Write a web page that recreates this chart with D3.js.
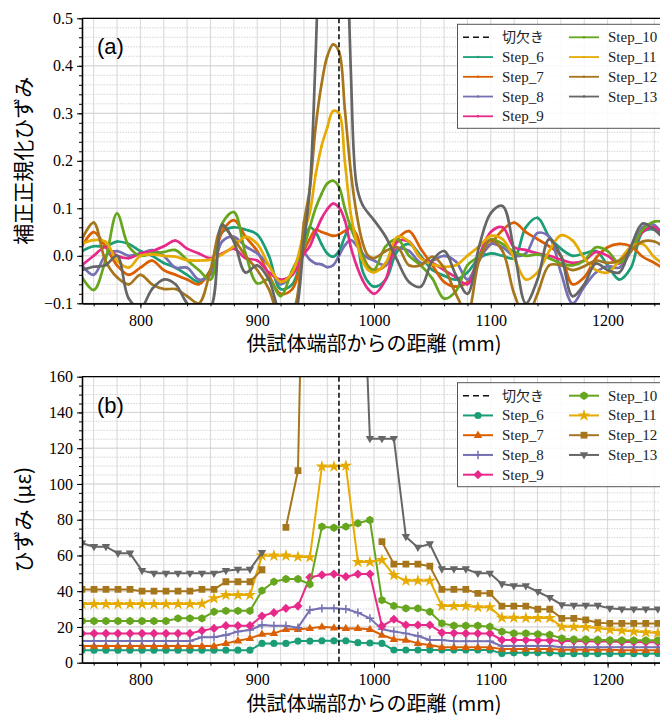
<!DOCTYPE html>
<meta charset="utf-8">
<head>
<script src="https://cdn.jsdelivr.net/npm/d3@7"></script>
<style>
  body { margin: 0; background: #fff; }
</style>
</head>
<body>
<script>
"use strict";

// ---- data ----
var seriesNames = ["Step_6", "Step_7", "Step_8", "Step_9", "Step_10", "Step_11", "Step_12", "Step_13"];
var notchLabel = "切欠き";
var notchX = 970;
var xTicks = [800, 900, 1000, 1100, 1200];
var aTicks = [-0.1, 0.0, 0.1, 0.2, 0.3, 0.4, 0.5];
var bTicks = [0, 20, 40, 60, 80, 100, 120, 140, 160];

// (a) corrected normalised strain, distance in mm
var xA = [750,760,770,780,790,800,810,820,830,840,850,860,870,880,890,900,910,920,930,
  940,945,950,955,960,965,970,975,980,985,990,995,1000,
  1010,1020,1030,1040,1050,1060,1070,1080,1090,1100,1110,1120,1130,1140,1150,1160,1170,1180,1190,1200,1210,1220,1230,1240,1250];
var a6 = [0.01,0.02,0.02,0.03,0.025,0.01,0.0,-0.015,-0.025,-0.04,-0.055,-0.03,0.05,0.06,0.055,0.045,0.0,-0.07,-0.06,
  0.02,0.06,0.05,0.025,0.005,-0.002,0.01,0.04,0.065,0.04,-0.03,-0.055,-0.065,
  -0.05,0.01,0.025,0.0,-0.03,-0.042,-0.05,-0.035,-0.005,0.005,0.0,-0.005,0.06,0.08,0.04,0.015,0.0,0.005,0.01,-0.02,-0.05,-0.025,0.05,0.055,0.03];
var a7 = [0.02,0.05,0.02,-0.02,-0.04,-0.025,-0.01,-0.03,-0.04,-0.05,-0.06,-0.03,0.05,0.075,0.04,0.01,-0.04,-0.08,-0.07,
  0.01,0.035,0.055,0.05,0.046,0.042,0.045,0.052,0.058,0.045,0.005,-0.022,-0.03,
  -0.02,0.035,0.052,0.015,-0.02,-0.055,-0.065,-0.055,-0.005,0.025,0.054,0.07,0.05,0.035,0.02,0.0,-0.06,-0.045,-0.005,0.018,0.025,0.02,-0.002,-0.015,-0.03];
var a8 = [-0.02,-0.04,0.0,0.01,0.0,0.005,0.012,0.0,-0.025,-0.025,-0.05,-0.04,0.03,0.04,0.02,0.005,-0.02,-0.06,-0.04,
  0.005,-0.008,-0.016,-0.018,-0.024,-0.02,0.0,0.022,0.033,0.022,0.005,-0.005,-0.01,
  -0.02,0.015,0.01,-0.015,-0.01,0.0,-0.012,-0.05,-0.01,0.025,0.018,0.0,0.005,0.048,0.04,-0.035,-0.1,-0.065,-0.035,-0.022,-0.025,0.01,0.06,0.065,0.03];
var a9 = [-0.02,0.0,0.018,0.0,-0.005,0.005,0.01,0.02,0.032,0.015,0.005,-0.005,0.005,0.015,-0.005,-0.01,-0.035,-0.05,-0.04,
  0.004,0.02,0.05,0.078,0.098,0.11,0.102,0.075,0.02,-0.02,-0.05,-0.07,-0.08,
  -0.05,0.03,0.03,-0.005,-0.015,-0.03,-0.045,-0.06,0.0,0.05,0.06,0.018,0.012,0.005,0.0,-0.008,-0.015,-0.01,0.008,0.0,-0.016,0.01,0.05,0.06,0.035];
var a10 = [-0.045,-0.072,-0.01,0.089,0.02,0.0,0.005,0.008,0.012,-0.009,-0.03,-0.05,0.068,0.092,0.005,-0.058,-0.05,-0.085,-0.03,
  0.02,0.06,0.1,0.13,0.152,0.158,0.145,0.1,0.06,0.03,0.0,-0.025,-0.03,
  0.02,0.035,0.0,-0.02,-0.048,-0.09,-0.075,-0.02,0.0,0.035,0.025,0.008,0.0,0.003,-0.005,-0.016,-0.02,-0.01,0.018,0.01,-0.015,0.01,0.055,0.072,0.07];
var a11 = [0.026,0.033,0.03,-0.01,-0.025,0.0,0.003,0.0,-0.002,-0.009,-0.01,-0.008,0.003,0.02,0.04,0.025,-0.02,-0.055,-0.035,
  0.05,0.09,0.17,0.23,0.27,0.305,0.3,0.2,0.09,0.03,-0.01,-0.03,-0.035,
  -0.015,0.04,0.03,-0.005,-0.018,-0.023,-0.02,0.0,0.02,0.042,0.035,-0.005,-0.05,-0.035,0.01,0.043,0.032,-0.005,-0.03,-0.035,-0.01,0.019,0.025,-0.003,-0.02];
var a12 = [0.035,0.07,-0.01,-0.045,-0.06,-0.04,-0.06,-0.07,-0.07,-0.085,-0.1,-0.03,0.06,0.035,0.0,-0.03,-0.07,-0.13,-0.12,
  0.07,0.14,0.27,0.36,0.42,0.445,0.43,0.31,0.18,0.09,0.03,0.0,-0.005,
  0.01,0.018,-0.02,-0.02,-0.002,-0.025,-0.08,-0.12,-0.01,0.033,0.01,-0.08,-0.13,-0.08,-0.02,-0.02,-0.03,-0.022,-0.01,-0.015,-0.01,0.012,0.03,0.03,0.015];
var a13 = [-0.03,-0.023,-0.02,0.0,-0.09,-0.11,-0.07,-0.05,-0.06,-0.1,-0.12,-0.11,0.065,0.03,-0.035,-0.02,-0.05,-0.12,-0.13,
  0.03,0.14,0.42,0.8,1.0,1.1,1.05,0.8,0.4,0.15,0.108,0.09,0.075,
  0.04,-0.01,-0.055,-0.065,-0.01,0.01,-0.04,-0.08,0.02,0.09,0.105,0.01,-0.1,-0.05,0.035,0.0,-0.085,-0.06,-0.016,-0.03,-0.035,0.02,0.068,0.055,0.03];

// (b) strain in micro-strain, gauge positions in mm (null = off the chart / missing)
var xB = [750,760.3,770.5,780.8,791.1,801.4,811.6,821.9,832.2,842.4,852.7,863,873.2,883.5,893.8,904.1,914.3,924.6,934.9,945.1,
  955.4,965.7,975.9,986.2,996.5,1006.8,1017,1027.3,1037.6,1047.8,1058.1,1068.4,1078.6,1088.9,1099.2,1109.5,1119.7,1130,1140.3,1150.5,
  1160.8,1171.1,1181.3,1191.6,1201.9,1212.2,1222.4,1232.7,1243,1253.2];
var b6 = [7,7,7,7,7,7,7,7,7,7,7,7,7,7,7,10.8,10.8,10.8,12.1,12.1,12.3,12.3,12.3,11.2,11,10.8,
  7.1,7.1,7.1,7.1,7.1,7.1,7.1,7.1,7.1,5.2,5.5,5.5,5.5,5.5,5,5,5,5,5,5,5,5,5.2,5.2];
var b7 = [9.3,9.3,9.3,9.3,9.3,9.3,9.3,9.3,9.3,9.3,9.3,9.3,10.8,12.3,13.6,16,16.4,18.7,18.7,19.2,20.1,19.5,19.2,19.2,18.7,15.5,13.1,12.7,10.8,9.9,
  8.6,8.6,8.6,8.6,8.6,7.6,7.6,7.6,7.6,7.6,7.3,7.3,7.3,7.3,7.3,7,7,7,7,7];
var b8 = [12.1,12.1,12.1,12.1,12.1,12.1,12.1,12.1,12.1,12.1,14.2,14.2,15.5,17.4,18.3,21.1,20.7,20.7,19.6,29.5,30.4,30.4,30,28,24.8,18.7,17.4,16.4,14.9,12.7,
  12.7,12,12,12,12,9.3,9.3,9.3,9.3,9.3,8.6,8.6,8.6,8.6,8.6,8.6,8.6,8.6,8.6,8.6];
var b9 = [16.4,16.4,16.4,16.4,16.4,16.4,16.4,16.4,16.4,16.4,17.9,19.2,20.7,20.7,20.7,26.1,28,30.4,31.7,47.8,49.1,49.6,48.1,49.6,49.6,20.5,24.3,21.1,21.1,21.1,
  16.8,16.6,16.4,16.4,16.4,12.7,12.7,12.7,12.5,12.5,12.2,12.2,12,11.8,11.8,11.6,11.6,11.5,11.5,11.5];
var b10 = [23.3,23.3,23.3,23.3,23.3,23.3,23.3,23.3,24.8,24.8,24.8,28.5,29,29,29,40.3,45.3,46.8,46.8,43.9,76.1,75.5,76.1,78,79.8,
  35,31.8,30.4,30.4,28.5,22,20.7,20.7,20.7,20.1,17.4,16.4,16.4,16,15.6,13.6,13,13,12.8,12.6,12.5,12.5,12.5,12.5,12.5];
var b11 = [32.8,32.8,32.8,32.8,32.8,32.8,32.8,32.8,32.8,32.8,33,36,37.9,37.9,37.9,59.9,59.9,59.9,59.3,59,109.7,109.7,110.2,
  56.3,56.3,57.4,49,45.9,45.9,45.9,31.7,31.7,31.7,31,31,25.2,25.2,25,25,25,20.1,20.1,20,19.3,18.5,18,17.5,17,16.6,16.4];
var b12 = [41,41,41,41,41,40,40,40,40,40,41,41,45.3,45.3,45.3,52,null,75.7,107.4,420,null,null,null,null,null,
  67.7,55.2,55.2,55.2,54,41,41,41,38.8,38.8,31.7,31.7,31.7,29.9,29.9,24.8,24.8,24,22.4,22,22,22,22,22,22];
var b13 = [66.8,64.9,64.9,61.2,61.2,51.5,50,50,50,50,50,50,51.5,52.2,52.2,61.5,null,null,null,null,null,null,null,
  300,125.3,125.3,125.3,70.5,64.5,66.4,52.4,52.4,52.4,50,50,44,43,43,39.7,36.4,32.3,32,32,32,30.4,29.9,29.9,29.9,29.9,29.9];

var seriesA = [a6, a7, a8, a9, a10, a11, a12, a13];
var seriesB = [b6, b7, b8, b9, b10, b11, b12, b13];

// ---- drawing ----
var width = 660, height = 717;
var left = 82, right = 666;
var colors = d3.schemeDark2;
var markerKinds = ["circle", "tri", "plus", "diamond", "hex", "star", "square", "tridown"];
var serif = "'Liberation Serif', 'Times New Roman', Tinos, 'DejaVu Serif', serif";
var jp = "'Noto Sans CJK JP', sans-serif";

var svg = d3.select("body").append("svg")
  .attr("width", width)
  .attr("height", height);

var x = d3.scaleLinear().domain([750, 1250]).range([left, right]);

function markerPath(kind) {
  switch (kind) {
    case "circle": return d3.symbol(d3.symbolCircle, 40)();
    case "tri": return "M0,-4.6L4.2,2.7L-4.2,2.7Z";
    case "plus": return "M-4.2,0H4.2M0,-4.2V4.2";
    case "diamond": return "M0,-4.6L4.6,0L0,4.6L-4.6,0Z";
    case "hex": return "M0,-4.2L3.64,-2.1L3.64,2.1L0,4.2L-3.64,2.1L-3.64,-2.1Z";
    case "star": return d3.symbol(d3.symbolStar, 48)();
    case "square": return "M-3.4,-3.4H3.4V3.4H-3.4Z";
    case "tridown": return "M0,4.6L4.2,-2.7L-4.2,-2.7Z";
    default: return d3.symbol(d3.symbolCircle, 5)();
  }
}

function drawMarker(sel, kind, color) {
  var p = sel.append("path").attr("d", markerPath(kind));
  if (kind === "plus") p.attr("fill", "none").attr("stroke", color).attr("stroke-width", 1.5);
  else p.attr("fill", color);
  return p;
}

function drawPanel(cfg) {
  var y = d3.scaleLinear().domain(cfg.yDomain).range([cfg.bottom, cfg.top]);
  var g = svg.append("g");

  svg.append("clipPath").attr("id", "clip" + cfg.name)
    .append("rect")
    .attr("x", left).attr("y", cfg.top)
    .attr("width", right - left).attr("height", cfg.bottom - cfg.top);

  // grid
  var grid = g.append("g");
  var yMinor = d3.range(cfg.yDomain[0], cfg.yDomain[1] + cfg.minorStep / 2, cfg.minorStep);
  grid.selectAll(".hmin").data(yMinor).enter().append("line")
    .attr("x1", left).attr("x2", right)
    .attr("y1", function(d) { return y(d); }).attr("y2", function(d) { return y(d); })
    .attr("stroke", "#cccccc").attr("stroke-width", 0.8).attr("stroke-dasharray", "1.5,1.2");
  grid.selectAll(".hmaj").data(cfg.yTicks).enter().append("line")
    .attr("x1", left).attr("x2", right)
    .attr("y1", function(d) { return y(d); }).attr("y2", function(d) { return y(d); })
    .attr("stroke", "#d0d0d0").attr("stroke-width", 0.9);
  grid.selectAll(".v").data(d3.range(760, 1250, 20)).enter().append("line")
    .attr("x1", function(d) { return x(d); }).attr("x2", function(d) { return x(d); })
    .attr("y1", cfg.top).attr("y2", cfg.bottom)
    .attr("stroke", "#d2d2d2").attr("stroke-width", 0.9);

  // series
  var plot = g.append("g").attr("clip-path", "url(#clip" + cfg.name + ")");
  var line = d3.line()
    .defined(function(d) { return d[1] != null; })
    .x(function(d) { return x(d[0]); })
    .y(function(d) { return y(d[1]); })
    .curve(cfg.curve);

  cfg.series.forEach(function(vals, i) {
    var pts = vals.map(function(v, j) { return [cfg.xs[j], v]; });
    plot.append("path")
      .datum(pts)
      .attr("fill", "none")
      .attr("stroke", colors[i])
      .attr("stroke-width", cfg.lineWidth)
      .attr("stroke-linejoin", "round")
      .attr("d", line);
    var kind = cfg.markers ? markerKinds[i] : "dot";
    pts.filter(function(d) { return d[1] != null; }).forEach(function(d) {
      drawMarker(plot, kind, colors[i])
        .attr("transform", "translate(" + x(d[0]) + "," + y(d[1]) + ")");
    });
  });

  // notch
  plot.append("line")
    .attr("x1", x(notchX)).attr("x2", x(notchX))
    .attr("y1", cfg.top).attr("y2", cfg.bottom)
    .attr("stroke", "#111").attr("stroke-width", 1.6).attr("stroke-dasharray", "5,3");

  // axes
  var yAxis = d3.axisLeft(y).tickValues(cfg.yTicks).tickFormat(cfg.fmt)
    .tickSize(5).tickPadding(4).tickSizeOuter(0);
  g.append("g").attr("transform", "translate(" + left + ",0)")
    .call(d3.axisLeft(y).tickValues(yMinor).tickFormat("").tickSize(3).tickSizeOuter(0));
  g.append("g").attr("transform", "translate(" + left + ",0)").call(yAxis);

  g.append("g").attr("transform", "translate(0," + cfg.bottom + ")")
    .call(d3.axisBottom(x).tickValues(d3.range(760, 1250, 20)).tickFormat("").tickSize(3).tickSizeOuter(0));
  g.append("g").attr("transform", "translate(0," + cfg.bottom + ")")
    .call(d3.axisBottom(x).tickValues(xTicks).tickFormat(d3.format("d"))
      .tickSize(5).tickPadding(6).tickSizeOuter(0));

  g.selectAll("g").attr("font-family", null);
  g.selectAll(".tick text")
    .style("font-family", serif)
    .style("font-size", "16px")
    .attr("fill", "#000");
  g.selectAll(".tick line").attr("stroke", "#000");
  g.selectAll(".domain").attr("stroke", "#000").attr("stroke-width", 1.3);
  g.append("line")
    .attr("x1", left).attr("x2", right)
    .attr("y1", cfg.top).attr("y2", cfg.top)
    .attr("stroke", "#000").attr("stroke-width", 1.3);

  // labels
  g.append("text")
    .attr("x", 97).attr("y", cfg.top + 36)
    .style("font-family", "'Liberation Sans', Arial, sans-serif")
    .style("font-size", "22px")
    .text(cfg.letter);

  g.append("text")
    .attr("x", (left + right) / 2).attr("y", cfg.bottom + 48)
    .attr("text-anchor", "middle")
    .style("font-family", jp)
    .style("font-size", "20px")
    .text("供試体端部からの距離 (mm)");

  g.append("text")
    .attr("transform", "translate(24," + ((cfg.top + cfg.bottom) / 2) + ") rotate(-90)")
    .attr("text-anchor", "middle")
    .attr("dy", "0.35em")
    .style("font-family", jp)
    .style("font-size", "21px")
    .text(cfg.yLabel);

  // legend
  var lg = g.append("g");
  lg.append("rect")
    .attr("x", 457.5).attr("y", cfg.top + 6)
    .attr("width", 215).attr("height", 104)
    .attr("fill", "#fff").attr("fill-opacity", 0.85)
    .attr("stroke", "#555").attr("stroke-width", 1);

  var entries = [{ label: notchLabel, notch: true }].concat(seriesNames.map(function(n, i) {
    return { label: n, i: i };
  }));
  entries.forEach(function(e, k) {
    var col = k < 5 ? 0 : 1;
    var row = k < 5 ? k : k - 5;
    var x0 = col === 0 ? 463 : 569;
    var tx = col === 0 ? 502 : 608;
    var cy = cfg.top + 19 + row * 19.75;
    if (e.notch) {
      lg.append("line").attr("x1", x0).attr("x2", x0 + 30).attr("y1", cy).attr("y2", cy)
        .attr("stroke", "#111").attr("stroke-width", 1.6).attr("stroke-dasharray", "6,4");
    } else {
      lg.append("line").attr("x1", x0).attr("x2", x0 + 30).attr("y1", cy).attr("y2", cy)
        .attr("stroke", colors[e.i]).attr("stroke-width", cfg.markers ? 2 : 1.8);
      drawMarker(lg, cfg.markers ? markerKinds[e.i] : "dot", colors[e.i])
        .attr("transform", "translate(" + (x0 + 15) + "," + cy + ")");
    }
    lg.append("text")
      .attr("x", tx).attr("y", cy + 5)
      .style("font-family", e.notch ? jp : serif)
      .style("font-size", e.notch ? "14px" : "15px")
      .attr("fill", "#222")
      .text(e.label);
  });
}

drawPanel({
  name: "a", letter: "(a)", top: 18.3, bottom: 303.3,
  yDomain: [-0.1, 0.5], yTicks: aTicks, minorStep: 0.02, fmt: d3.format(".1f"),
  xs: xA, series: seriesA, markers: false, lineWidth: 2.7,
  curve: d3.curveCatmullRom.alpha(0.5),
  yLabel: "補正正規化ひずみ"
});

drawPanel({
  name: "b", letter: "(b)", top: 376.7, bottom: 662.7,
  yDomain: [0, 160], yTicks: bTicks, minorStep: 5, fmt: d3.format("d"),
  xs: xB, series: seriesB, markers: true, lineWidth: 2,
  curve: d3.curveLinear,
  yLabel: "ひずみ (με)"
});
</script>
</body>
